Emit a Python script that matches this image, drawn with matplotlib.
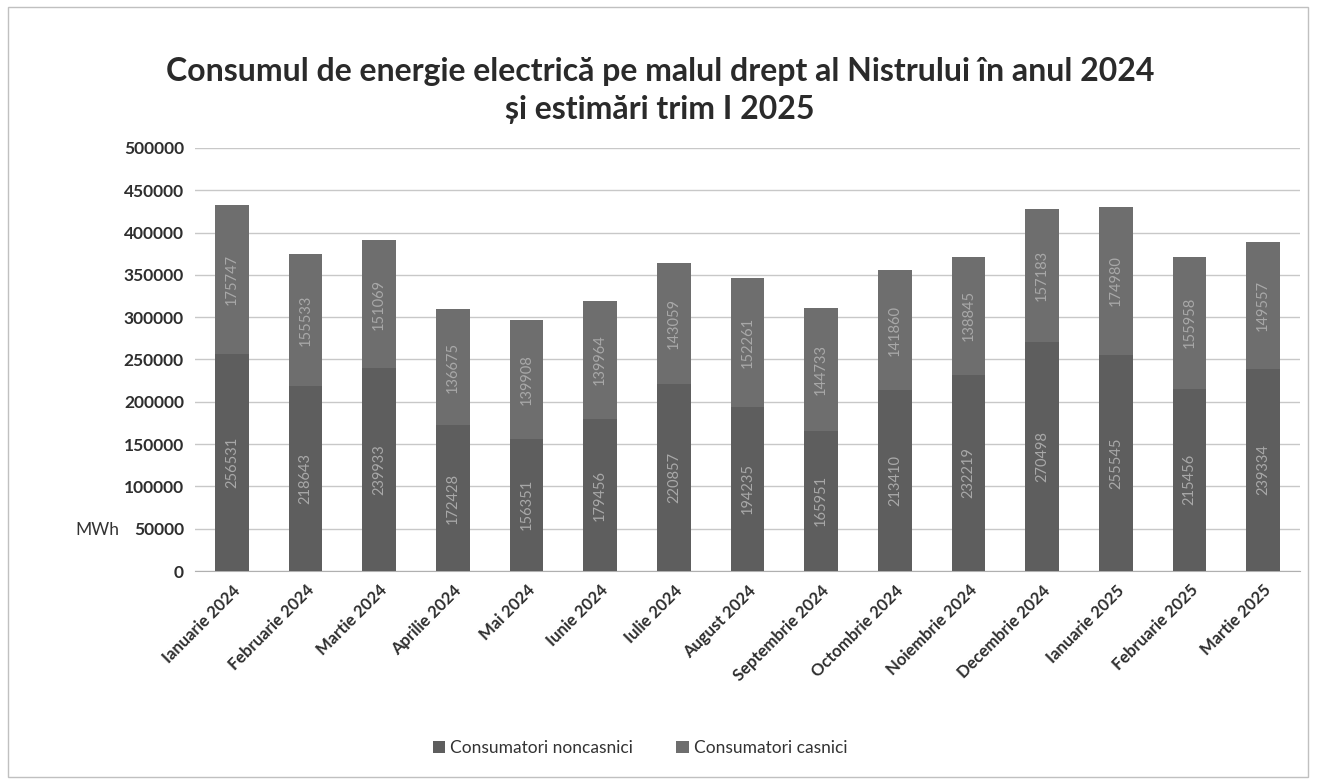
import matplotlib
matplotlib.use('Agg')
from matplotlib import pyplot as plt
import numpy as np

months = ['Ianuarie 2024', 'Februarie 2024', 'Martie 2024', 'Aprilie 2024', 'Mai 2024',
          'Iunie 2024', 'Iulie 2024', 'August 2024', 'Septembrie 2024', 'Octombrie 2024',
          'Noiembrie 2024', 'Decembrie 2024', 'Ianuarie 2025', 'Februarie 2025', 'Martie 2025']
noncasnici = [256531, 218643, 239933, 172428, 156351, 179456, 220857, 194235, 165951,
              213410, 232219, 270498, 255545, 215456, 239334]
casnici = [175747, 155533, 151069, 136675, 139908, 139964, 143059, 152261, 144733,
           141860, 138845, 157183, 174980, 155958, 149557]

plt.rcParams['font.family'] = ['Lato', 'DejaVu Sans']

fig = plt.figure(figsize=(13.17, 7.82), dpi=100)
ax = fig.add_axes([195/1317, 1 - 571/782, 1105/1317, 423/782])

x = np.arange(len(months))
c_non = '#5e5e5e'
c_cas = '#6e6e6e'
b1 = ax.bar(x, noncasnici, width=0.46, color=c_non, label='Consumatori noncasnici', zorder=3)
b2 = ax.bar(x, casnici, width=0.46, bottom=noncasnici, color=c_cas, label='Consumatori casnici', zorder=3)

for i in range(len(months)):
    ax.text(x[i], noncasnici[i] / 2, str(noncasnici[i]), rotation=90, ha='center', va='center',
            fontsize=10.5, color='#a8a8a8', zorder=4)
    ax.text(x[i], noncasnici[i] + casnici[i] / 2, str(casnici[i]), rotation=90, ha='center',
            va='center', fontsize=10.5, color='#a8a8a8', zorder=4)

ax.set_xlim(-0.5, len(months) - 0.5)
ax.set_ylim(0, 500000)
ax.set_yticks(np.arange(0, 500001, 50000))
ax.set_yticklabels([str(v) for v in range(0, 500001, 50000)], fontsize=12.5, fontweight='bold', color='#2e2e2e')
ax.set_xticks(x)
ax.set_xticklabels(months, rotation=45, ha='right', rotation_mode='anchor', fontsize=12,
                   fontweight='bold', color='#2e2e2e')
ax.tick_params(axis='both', length=0, pad=8)
ax.grid(axis='y', color='#c8c8c8', linewidth=1, zorder=0)
for s in ['top', 'right', 'left']:
    ax.spines[s].set_visible(False)
ax.spines['bottom'].set_color('#b0b0b0')

fig.text(75/1317, 1 - 530/782, 'MWh', fontsize=12.5, color='#333333', ha='left', va='center')
fig.text(660/1317, 1 - 72/782, 'Consumul de energie electrică pe malul drept al Nistrului în anul 2024',
         fontsize=23, fontweight='bold', color='#2a2a2a', ha='center', va='center')
fig.text(660/1317, 1 - 110/782, 'și estimări trim I 2025',
         fontsize=23, fontweight='bold', color='#2a2a2a', ha='center', va='center')

fig.legend(handles=[b1, b2], loc='center', bbox_to_anchor=(640/1317, 1 - 748/782), ncol=2,
           frameon=False, fontsize=12.5, handlelength=0.7, handleheight=0.7, columnspacing=2.5,
           handletextpad=0.3, labelcolor='#333333')

border = plt.Rectangle((8/1317, 5/782), 1300/1317, 770/782, transform=fig.transFigure,
                       fill=False, edgecolor='#c0c0c0', linewidth=1)
fig.patches.append(border)

plt.savefig('out.png', dpi=100)
